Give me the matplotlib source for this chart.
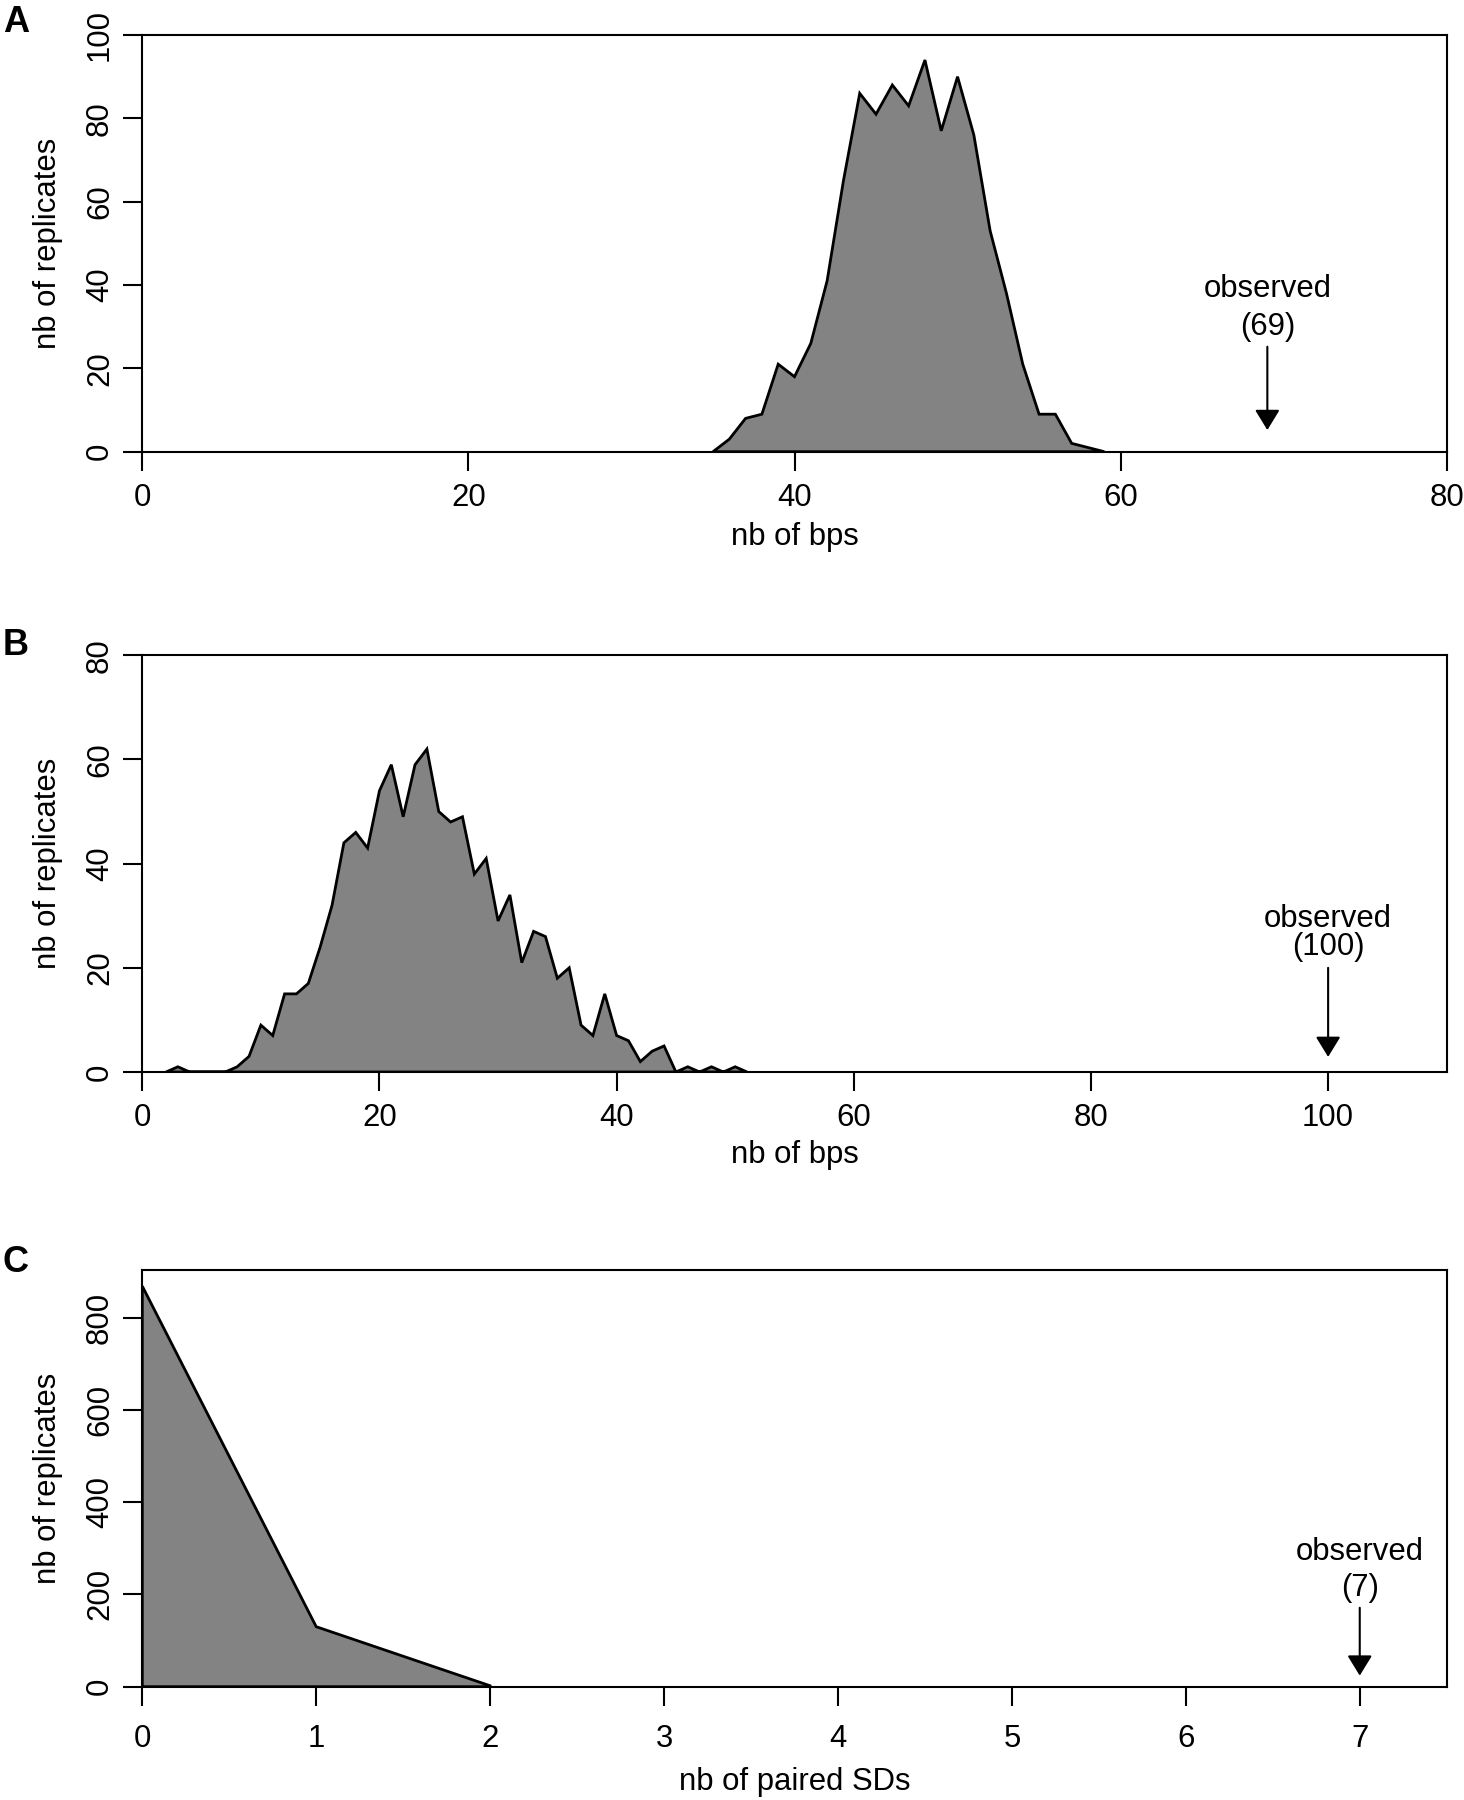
import matplotlib
matplotlib.use("Agg")
import matplotlib.pyplot as plt

plt.rcParams["font.family"] = ["Liberation Sans", "DejaVu Sans"]
plt.rcParams["font.size"] = 22.4

# panel A: nb of bps (replicate distribution)
a_bps = list(range(35, 60))
a_counts = [0, 3, 8, 9, 21, 18, 26, 41, 65, 86, 81, 88, 83, 94, 77, 90,
            76, 53, 38, 21, 9, 9, 2, 1, 0]
a_observed = 69

# panel B: nb of bps
b_bps = list(range(2, 52))
b_counts = [0, 1, 0, 0, 0, 0, 1, 3, 9, 7, 15, 15, 17, 24, 32, 44, 46, 43,
            54, 59, 49, 59, 62, 50, 48, 49, 38, 41, 29, 34, 21, 27, 26, 18,
            20, 9, 7, 15, 7, 6, 2, 4, 5, 0, 1, 0, 1, 0, 1, 0]
b_observed = 100

# panel C: nb of paired SDs
c_sds = [0, 1, 2]
c_counts = [868, 130, 2]
c_observed = 7

W, H = 1464, 1800
fig = plt.figure(figsize=(W / 100, H / 100), dpi=100)

left = 142.3 / W
width = 1304.4 / W


def panel(top_px, bottom_px, x, y, obs, xlim, ylim, xticks, yticks, xlabel,
          txt_y, arrow_y, xpad, xlab_off):
    ax = fig.add_axes([left, 1 - bottom_px / H, width, (bottom_px - top_px) / H])
    xs = [x[0]] + list(x) + [x[-1]]
    ys = [0] + list(y) + [0]
    ax.fill(xs, ys, facecolor="#838383", edgecolor="black", linewidth=2.0,
            joinstyle="miter")
    ax.set_xlim(*xlim)
    ax.set_ylim(*ylim)
    ax.set_xticks(xticks)
    ax.set_yticks(yticks)
    for s in ax.spines.values():
        s.set_linewidth(1.5)
    ax.tick_params(axis="both", length=13.7, width=1.5, direction="out")
    ax.tick_params(axis="x", pad=xpad)
    ax.tick_params(axis="y", pad=6)
    plt.setp(ax.get_yticklabels(), rotation=90, va="center")
    ax.set_xlabel(xlabel, va="center")
    ax.xaxis.set_label_coords(0.5, -xlab_off / (bottom_px - top_px))
    ax.set_ylabel("nb of replicates", va="center")
    ax.yaxis.set_label_coords(-94.8 / 1304.4, 0.5)

    ax.text(obs, txt_y[0], "observed", ha="center", va="baseline")
    ax.text(obs, txt_y[1], "(%d)" % obs, ha="center", va="baseline")
    ax.annotate("", xy=(obs, arrow_y[1]), xytext=(obs, arrow_y[0]),
                arrowprops=dict(arrowstyle="-|>,head_length=0.62,head_width=0.38",
                                mutation_scale=20, color="black", lw=1.5,
                                shrinkA=0, shrinkB=0))
    return ax


panel(35.0, 451.7, a_bps, a_counts, a_observed, (0, 80), (0, 100),
      range(0, 81, 20), range(0, 101, 20), "nb of bps",
      (37.2, 28.0), (25.2, 5.2), 8.6, 85.5)

panel(655.3, 1072.0, b_bps, b_counts, b_observed, (0, 110), (0, 80),
      range(0, 101, 20), range(0, 81, 20), "nb of bps",
      (27.8, 22.4), (20.0, 2.9), 8.6, 83)

panel(1270.0, 1686.7, c_sds, c_counts, c_observed, (0, 7.5), (0, 903),
      range(0, 8), range(0, 801, 200), "nb of paired SDs",
      (275, 197.6), (171, 24), 13, 95)

# panel letters
for lab, ypx in (("A", 22), ("B", 646), ("C", 1262)):
    fig.text(16 / W, 1 - ypx / H, lab, ha="center", va="center",
             fontsize=26, fontweight="bold")

fig.savefig("out.png", dpi=100)
